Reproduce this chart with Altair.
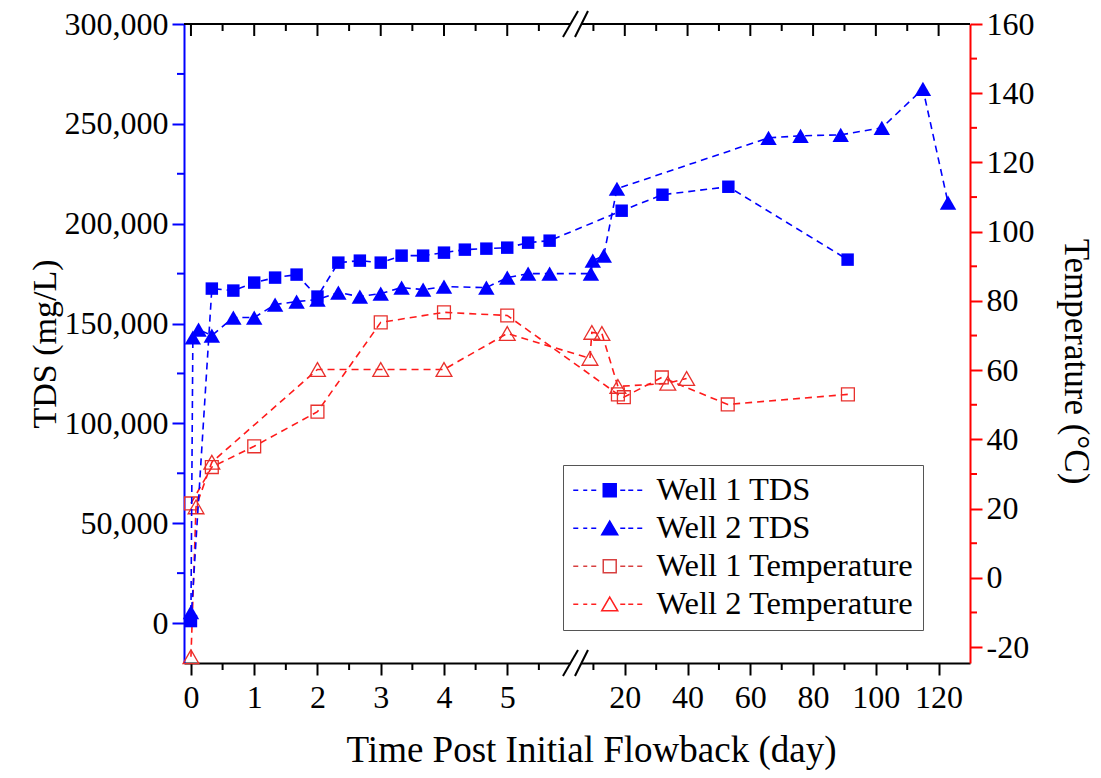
import altair as alt
import pandas as pd

# ---------------- data ----------------
w1_tds_day = [0.0, 0.33, 0.67, 1.0, 1.33, 1.67, 2.0, 2.33, 2.67, 3.0, 3.33, 3.67,
              4.0, 4.33, 4.67, 5.0, 5.33, 5.67, 19.0, 32.0, 53.0, 91.0]
w1_tds = [1000, 167500, 166500, 170500, 173000, 174500, 163500, 180500, 181500,
          180500, 184000, 184000, 185500, 187000, 187500, 188000, 190500, 191500,
          206500, 214500, 218500, 182000]

w2_tds_day = [0.0, 0.03, 0.12, 0.33, 0.67, 1.0, 1.33, 1.67, 2.0, 2.33, 2.67, 3.0,
              3.33, 3.67, 4.0, 4.67, 5.0, 5.33, 5.67, 9.2, 9.8, 13.3, 17.5, 65.8,
              76.0, 88.8, 101.9, 115.0, 123.0]
w2_tds = [5500, 143000, 147000, 144000, 153000, 153000, 159500, 161000, 162000,
          165500, 163500, 165000, 168000, 167000, 168500, 168000, 173000, 175000,
          175000, 175000, 181500, 184000, 217500, 243000, 244000, 244500, 248000,
          267500, 210500]

w1_temp_day = [0.0, 0.33, 1.0, 2.0, 3.0, 4.0, 5.0, 17.8, 19.7, 31.8, 52.8, 91.1]
w1_temp = [21.5, 32.0, 38.0, 48.0, 73.8, 76.7, 75.8, 53.0, 52.2, 57.9, 50.1, 53.0]

w2_temp_day = [0.0, 0.08, 0.33, 2.0, 3.0, 4.0, 5.0, 8.9, 9.5, 12.7, 17.8, 33.7, 39.7]
w2_temp = [-22.8, 20.5, 33.4, 60.2, 60.2, 60.2, 70.6, 63.4, 70.9, 70.6, 55.3, 56.2, 57.6]

series_labels = ["Well 1 TDS", "Well 2 TDS", "Well 1 Temperature", "Well 2 Temperature"]

x_major = [0, 1, 2, 3, 4, 5, 20, 40, 60, 80, 100, 120]
x_minor = [0.5, 1.5, 2.5, 3.5, 4.5, 5.5, 10, 30, 50, 70, 90, 110]
tds_major = list(range(0, 300001, 50000))
tds_minor = list(range(25000, 300000, 50000))
temp_major = list(range(-20, 161, 20))
temp_minor = list(range(-10, 160, 20))

# ---------------- styling ----------------
FONT = "Liberation Serif"
BLUE = "#0000ff"
RED = "#ff1a1a"
RED_MK = "#e8302c"
W, H = 786, 639
XTITLE = "Time Post Initial Flowback (day)"
LBL = 32

xscale = alt.Scale(type="linear", domain=[-0.11, 6, 7, 130],
                   range=[0, 386.5, 400, W], nice=False, zero=False)
tds_scale = alt.Scale(domain=[-20000, 300000], nice=False, zero=False)
temp_scale = alt.Scale(domain=[-24.6, 160], nice=False, zero=False)

xaxis = alt.Axis(orient="bottom", values=x_major, format="d", grid=False,
                 tickSize=12, tickWidth=2, tickColor="black",
                 domainColor="black", domainWidth=2,
                 labelFont=FONT, labelFontSize=LBL, labelColor="black",
                 labelPadding=7, labelFlush=False, labelOverlap=False,
                 titleFont=FONT, titleFontSize=37, titleFontWeight="normal",
                 titleColor="black", titlePadding=19, titleX=407)
X = alt.X("day:Q", scale=xscale, axis=xaxis, title=XTITLE)


def Xd(v):
    return alt.X(datum=v, scale=xscale, axis=xaxis, title=XTITLE)


tds_axis = alt.Axis(orient="left", values=tds_major, format=",.0f", grid=False,
                    tickSize=12, tickWidth=2, tickColor=BLUE,
                    domainColor=BLUE, domainWidth=2,
                    labelFont=FONT, labelFontSize=LBL, labelColor="black",
                    labelPadding=4, labelOverlap=False,
                    titleFont=FONT, titleFontSize=34, titleFontWeight="normal",
                    titleColor="black", titlePadding=2)
Y_tds = alt.Y("tds:Q", scale=tds_scale, axis=tds_axis, title="TDS (mg/L)")

temp_axis = alt.Axis(orient="right", values=temp_major, labelExpr="toString(datum.value)",
                     grid=False,
                     tickSize=12, tickWidth=2, tickColor="#ff0000",
                     domainColor="#ff0000", domainWidth=2,
                     labelFont=FONT, labelFontSize=LBL, labelColor="black",
                     labelPadding=4, labelOverlap=False,
                     titleFont=FONT, titleFontSize=35, titleFontWeight="normal",
                     titleColor="black", titlePadding=23, titleY=337)
Y_tmp = alt.Y("temp:Q", scale=temp_scale, axis=temp_axis, title="Temperature (°C)")


def series(days, vals, col, Y, line_color, mk_color, shape, filled, size):
    df = pd.DataFrame({"day": days, col: vals})
    base = alt.Chart(df)
    line = base.mark_line(color=line_color, strokeDash=[7, 5], strokeWidth=1.6).encode(x=X, y=Y)
    if filled:
        pts = base.mark_point(shape=shape, filled=True, size=size, color=mk_color,
                              opacity=1).encode(x=X, y=Y)
    else:
        pts = base.mark_point(shape=shape, filled=False, size=size, color=mk_color,
                              strokeWidth=1.3, opacity=1).encode(x=X, y=Y)
    return line, pts


l1, p1 = series(w1_tds_day, w1_tds, "tds", Y_tds, BLUE, BLUE, "square", True, 155)
l2, p2 = series(w2_tds_day, w2_tds, "tds", Y_tds, BLUE, BLUE, "triangle-up", True, 270)
l3, p3 = series(w1_temp_day, w1_temp, "temp", Y_tmp, RED, RED_MK, "square", False, 165)
l4, p4 = series(w2_temp_day, w2_temp, "temp", Y_tmp, RED, RED_MK, "triangle-up", False, 250)

tds_minor_ticks = alt.Chart(pd.DataFrame({"tds": tds_minor})).mark_rule(
    color=BLUE, strokeWidth=2).encode(y=Y_tds, x=alt.value(-7), x2=alt.value(0))
temp_minor_ticks = alt.Chart(pd.DataFrame({"temp": temp_minor})).mark_rule(
    color="#ff0000", strokeWidth=2).encode(y=Y_tmp, x=alt.value(W), x2=alt.value(W + 7))

tds_layer = alt.layer(l1, l2, p1, p2, tds_minor_ticks)
temp_layer = alt.layer(l3, l4, p3, p4, temp_minor_ticks)

# x-axis decorations: minor ticks, top frame with inward ticks, axis break
xmin_df = pd.DataFrame({"day": x_minor})
xmaj_df = pd.DataFrame({"day": x_major})
one = pd.DataFrame({"k": [0]})

bottom_minor = alt.Chart(xmin_df).mark_rule(color="black", strokeWidth=2).encode(
    x=X, y=alt.value(H), y2=alt.value(H + 7))
top_major = alt.Chart(xmaj_df).mark_rule(color="black", strokeWidth=2).encode(
    x=X, y=alt.value(0), y2=alt.value(12))
top_minor = alt.Chart(xmin_df).mark_rule(color="black", strokeWidth=2).encode(
    x=X, y=alt.value(0), y2=alt.value(7))
top_line = alt.Chart(one).mark_rule(color="black", strokeWidth=2).encode(
    x=alt.value(0), x2=alt.value(W), y=alt.value(0))

gap_top = alt.Chart(one).mark_rect(color="white").encode(
    x=Xd(6.0), x2=alt.X2(datum=6.81), y=alt.value(-4), y2=alt.value(4))
gap_bot = alt.Chart(one).mark_rect(color="white").encode(
    x=Xd(6.0), x2=alt.X2(datum=6.81), y=alt.value(H - 4), y2=alt.value(H + 4))


def slash(d0, d1, yc):
    return alt.Chart(one).mark_rule(color="black", strokeWidth=2).encode(
        x=Xd(d0), x2=alt.X2(datum=d1),
        y=alt.value(yc + 13), y2=alt.value(yc - 13))


slashes = [slash(5.881, 6.556, 0), slash(6.333, 8.27, 0),
           slash(5.881, 6.556, H), slash(6.333, 8.27, H)]

# legend (native legend with custom dashed-line + marker symbols)
dash = ("M-1.25,0H-0.833M-0.417,0H-0.083M0.25,0H0.667"
        "M2.667,0H3.083M3.333,0H3.75M4.083,0H4.5")
sq = "M1.25,-0.54H2.33V0.54H1.25Z"
tri = "M1.79,-0.6L2.457,0.55L1.123,0.55Z"
paths = [dash + sq, dash + tri, dash + sq, dash + tri]

leg_def = alt.Legend(orient="none", legendX=379, legendY=441, title=None, padding=9,
                     strokeColor="#555555", fillColor="white",
                     labelFont=FONT, labelFontSize=32.5, labelColor="black",
                     labelOffset=52, labelLimit=0, symbolSize=576,
                     symbolStrokeWidth=1.5, rowPadding=5)
legend_layer = alt.Chart(pd.DataFrame({"series": series_labels})).mark_point(
    filled=False, opacity=1).encode(
    shape=alt.Shape("series:N", scale=alt.Scale(domain=series_labels, range=paths), legend=leg_def),
    stroke=alt.Stroke("series:N", scale=alt.Scale(domain=series_labels,
                                                  range=[BLUE, BLUE, "#d84040", "#ff2020"]),
                      legend=leg_def),
    fill=alt.Fill("series:N", scale=alt.Scale(domain=series_labels,
                                              range=[BLUE, BLUE, "white", "white"]),
                  legend=leg_def),
).transform_filter("false")

chart = alt.layer(
    temp_layer, tds_layer,
    bottom_minor, top_major, top_minor, top_line,
    gap_top, gap_bot, *slashes,
    legend_layer,
).resolve_scale(y="independent").properties(
    width=W, height=H,
    autosize=alt.AutoSizeParams(type="none"),
    padding={"left": 184, "top": 24, "right": 131, "bottom": 115},
    background="white",
).configure_view(stroke=None)

chart.save("out.html", embed_options={"renderer": "svg", "actions": False})
